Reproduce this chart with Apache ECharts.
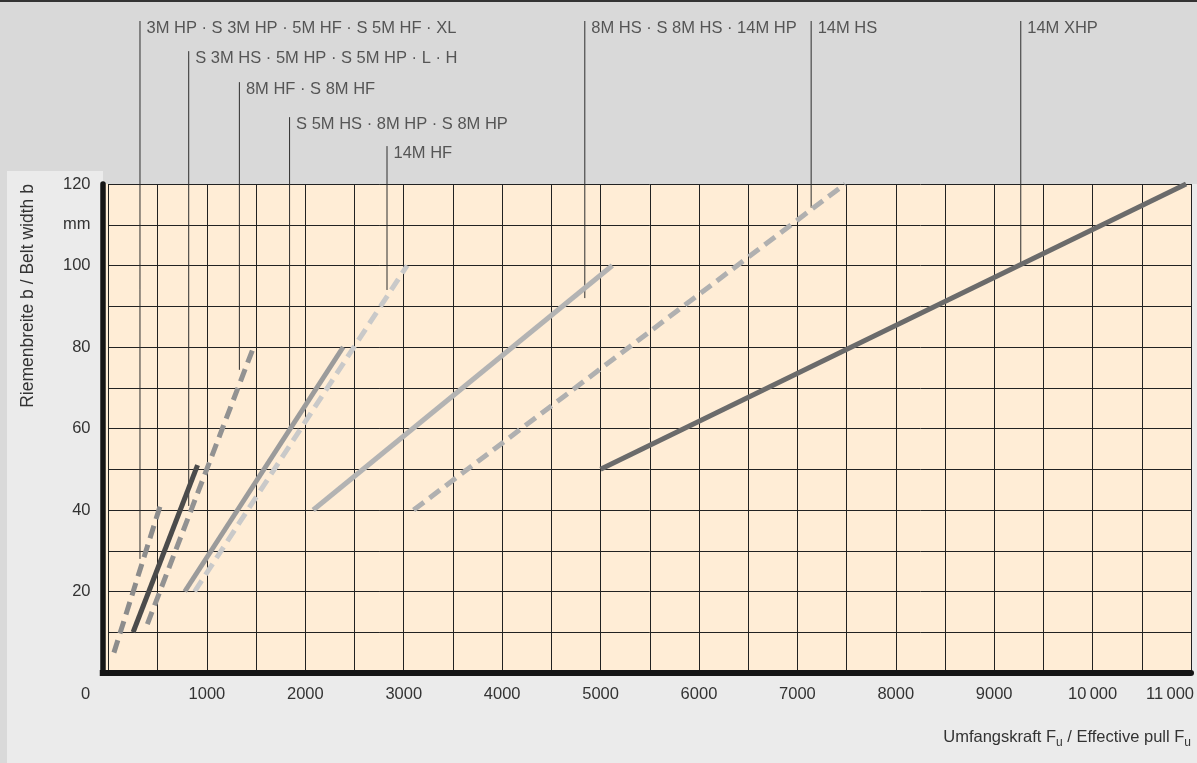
<!DOCTYPE html>
<html>
<head>
<meta charset="utf-8">
<script src="https://cdn.jsdelivr.net/npm/echarts@6/dist/echarts.min.js"></script>
<style>
  html, body { margin: 0; padding: 0; background: #d9d9d9; }
  #chart { width: 1197px; height: 763px; }
</style>
</head>
<body>
<div id="chart"></div>
<script>
// ---- data ----
const beltTypes = [
  '3M HP · S 3M HP · 5M HF · S 5M HF · XL',
  'S 3M HS · 5M HP · S 5M HP · L · H',
  '8M HF · S 8M HF',
  'S 5M HS · 8M HP · S 8M HP',
  '14M HF',
  '8M HS · S 8M HS · 14M HP',
  '14M HS',
  '14M XHP'
];
const pullStart = [55, 250, 395, 775, 875, 2080, 3100, 5000];
const pullEnd   = [525, 905, 1475, 2385, 3035, 5120, 7485, 10950];
const widthStart = [5, 10, 12, 20, 20, 40, 40, 50];
const widthEnd   = [41, 51, 80, 80, 100, 100, 120, 120];
// pointer (label leader) lines
const pointerPull = [320, 815, 1330, 1840, 2830, 4840, 7140, 9270];
const pointerTop  = [160, 152.6, 145, 136.4, 129.3, 160, 160, 160];
const pointerEnd  = [28, 41, 74.4, 59, 94, 92, 114.2, 100.2];
// tick labels
const xTickLabels = ['0', '1000', '2000', '3000', '4000', '5000', '6000', '7000', '8000', '9000', '10\u2009000', '11\u2009000'];
const yTickLabels = { 20: '20', 40: '40', 60: '60', 80: '80', 100: '100', 110: 'mm', 120: '120' };

// ---- styles ----
const lineColors = ['#8c8c8c', '#4b4b4b', '#929292', '#9b9b9b', '#c9c9c9', '#b3b3b3', '#b0b0b0', '#6b6b6b'];
const lineDashed = [true, false, true, false, true, false, true, false];
const FONT = 'Liberation Sans, Arial, sans-serif';
const TXT = '#333333';

const chart = echarts.init(document.getElementById('chart'), null, { renderer: 'canvas' });

const curveSeries = beltTypes.map((name, i) => ({
  type: 'line',
  name: name,
  data: [[pullStart[i], widthStart[i]], [pullEnd[i], widthEnd[i]]],
  symbol: 'none',
  silent: true,
  z: 4,
  lineStyle: { width: 5, color: lineColors[i], type: lineDashed[i] ? [13, 7] : 'solid', cap: 'butt' }
}));

const pointerSeries = beltTypes.map((name, i) => ({
  type: 'line',
  name: 'ptr' + i,
  data: [[pointerPull[i], pointerTop[i]], [pointerPull[i], pointerEnd[i]]],
  symbol: 'none',
  clip: false,
  silent: true,
  z: 3,
  lineStyle: { width: 1, color: '#2e2e2e' }
}));

const labelSeries = {
  type: 'scatter',
  name: 'labels',
  clip: false,
  silent: true,
  symbolSize: 1,
  itemStyle: { color: 'rgba(0,0,0,0)' },
  z: 5,
  data: beltTypes.map((name, i) => ({ name: name, value: [pointerPull[i], pointerTop[i]] })),
  label: {
    show: true,
    position: 'right',
    distance: 6,
    offset: [0, 7],
    formatter: '{b}',
    fontFamily: FONT,
    fontSize: 16.5,
    color: TXT
  }
};

const option = {
  backgroundColor: '#d9d9d9',
  animation: false,
  graphic: [
    { type: 'rect', z: -20, shape: { x: 0, y: 0, width: 1197, height: 2 }, style: { fill: '#333333' } },
    { type: 'rect', z: -20, shape: { x: 7, y: 184, width: 1190, height: 579 }, style: { fill: '#ebebeb' } },
    { type: 'rect', z: -20, shape: { x: 7, y: 171, width: 96, height: 14 }, style: { fill: '#ebebeb' } },
    { type: 'rect', z: -19, shape: { x: 105, y: 184, width: 1086.5, height: 489 }, style: { fill: '#ffedd6' } },
    { type: 'rect', z: 10, shape: { x: 99.75, y: 670, width: 9, height: 6 }, style: { fill: '#151515' } },
    {
      type: 'text', z: 10, x: 28, y: 296, rotation: Math.PI / 2,
      style: { text: 'Riemenbreite b / Belt width b', font: '17.5px ' + FONT, fill: TXT, align: 'center', verticalAlign: 'middle' }
    }
  ],
  grid: { left: 108.5, right: 5.8, top: 184, bottom: 90, containLabel: false },
  xAxis: {
    type: 'value', min: 0, max: 11000, interval: 500,
    axisLine: { show: true, onZero: false, lineStyle: { color: '#151515', width: 6 } },
    axisTick: { show: false },
    splitLine: { show: true, lineStyle: { color: '#222222', width: 1 } },
    axisLabel: {
      interval: 0, margin: 13, fontFamily: FONT, fontSize: 16.5, color: TXT,
      formatter: function (v) {
        if (v % 1000 !== 0) return '';
        const t = xTickLabels[v / 1000];
        if (v === 0) return '{z|' + t + '}';
        if (v === 11000) return '{e|' + t + '}';
        return t;
      },
      rich: { z: { padding: [0, 46, 0, 0] }, e: { padding: [0, 42, 0, 0] } }
    },
    name: 'Umfangskraft F{s|u} / Effective pull F{s|u}',
    nameLocation: 'end',
    nameGap: 0,
    nameTextStyle: {
      fontFamily: FONT, fontSize: 16.5, color: TXT, align: 'right', verticalAlign: 'top',
      padding: [52, 0, 0, 0],
      rich: { s: { fontFamily: FONT, fontSize: 12, color: TXT, padding: [12, 0, 0, 0] } }
    }
  },
  yAxis: {
    type: 'value', min: 0, max: 120, interval: 10, offset: 6,
    axisLine: { show: true, onZero: false, lineStyle: { color: '#151515', width: 5.5 } },
    axisTick: { show: false },
    splitLine: { show: true, lineStyle: { color: '#222222', width: 1 } },
    axisLabel: {
      margin: 12, fontFamily: FONT, fontSize: 16.5, color: TXT,
      formatter: function (v) { return yTickLabels[v] || ''; }
    }
  },
  series: [].concat(pointerSeries, curveSeries, [labelSeries])
};

chart.setOption(option);
</script>
</body>
</html>
